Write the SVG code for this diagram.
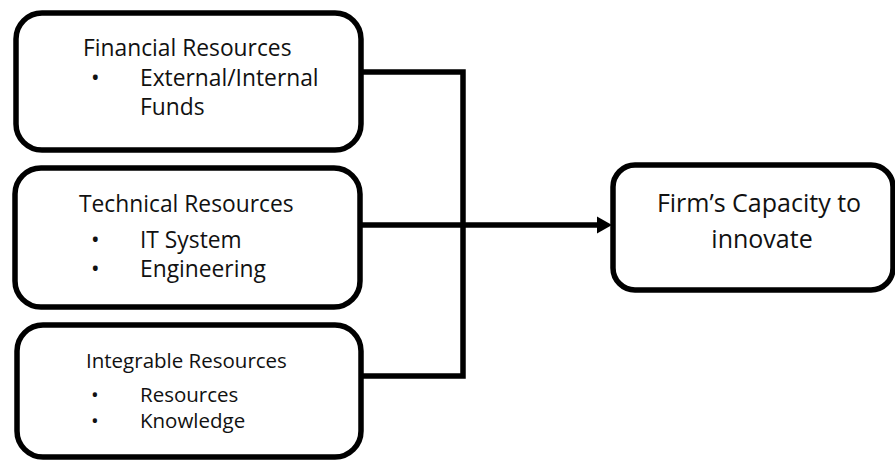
<svg xmlns="http://www.w3.org/2000/svg" width="895" height="462" viewBox="0 0 895 462">
<defs>
<style>
.box{fill:#fff;stroke:#000;stroke-width:5.5}
.t{font-family:"Open Sans","Liberation Sans",sans-serif;fill:#111}
.l23{font-size:22.8px}
.l20{font-size:20.5px}
.l25{font-size:25px}
.con{fill:none;stroke:#000;stroke-width:5.5}
</style>
</defs>
<rect width="895" height="462" fill="#fff"/>
<g id="connectors">
<path class="con" d="M361,72 H463 V376 H361"/>
<path class="con" d="M361,225 H598"/>
<path d="M597,216.5 L612,225 L597,233.5 Z" fill="#000"/>
</g>
<g id="financial">
<rect class="box" x="16" y="13" width="345" height="137" rx="26"/>
<text class="t l23" x="83" y="56">Financial Resources</text>
<text class="t l23" y="86"><tspan x="91">•</tspan><tspan x="140">External/Internal</tspan></text>
<text class="t l23" x="140" y="115">Funds</text>
</g>
<g id="technical">
<rect class="box" x="15" y="168" width="345" height="139" rx="26"/>
<text class="t l23" x="79" y="212">Technical Resources</text>
<text class="t l23" y="248"><tspan x="91">•</tspan><tspan x="140">IT System</tspan></text>
<text class="t l23" y="277"><tspan x="91">•</tspan><tspan x="140">Engineering</tspan></text>
</g>
<g id="integrable">
<rect class="box" x="17" y="325" width="344" height="132" rx="26"/>
<text class="t l20" x="86" y="368">Integrable Resources</text>
<text class="t l20" y="402"><tspan x="91">•</tspan><tspan x="140">Resources</tspan></text>
<text class="t l20" y="428"><tspan x="91">•</tspan><tspan x="140">Knowledge</tspan></text>
</g>
<g id="capacity">
<rect class="box" x="613" y="165" width="280" height="125" rx="22"/>
<text class="t l25" x="759" y="212" text-anchor="middle">Firm’s Capacity to</text>
<text class="t l25" x="762" y="248" text-anchor="middle">innovate</text>
</g>
</svg>
